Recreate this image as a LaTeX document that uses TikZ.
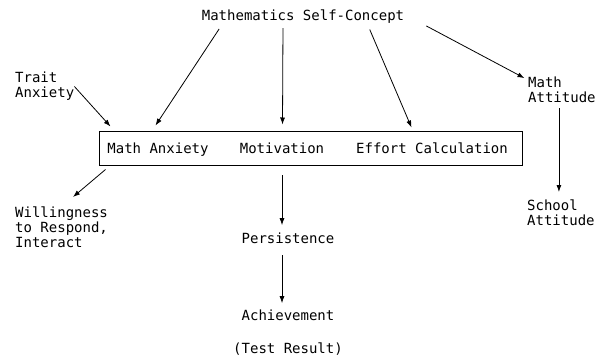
\documentclass[tikz,border=0pt]{standalone}
\usepackage{fontspec}
\setmonofont{DejaVu Sans Mono}
\usetikzlibrary{arrows.meta}

\begin{document}
\begin{tikzpicture}[x=1pt, y=-1pt,
  lbl/.style={font=\ttfamily\fontsize{14}{15}\selectfont, inner sep=0pt, align=left},
  arr/.style={-{Latex[length=7pt,width=5pt]}, line width=0.8pt}]
  \useasboundingbox (0,0) rectangle (601,362);

  % Self-concept at the top
  \node[lbl, anchor=base] (msc) at (303,20) {Mathematics Self-Concept};

  % Central box with its three parts
  \node[draw, line width=1pt, minimum width=423pt, minimum height=34pt, inner sep=0pt] (box) at (310.5,148) {};
  \node[lbl, anchor=base] (anx) at (158,153) {Math Anxiety};
  \node[lbl, anchor=base] (mot) at (282,153) {Motivation};
  \node[lbl, anchor=base] (eff) at (432,153) {Effort Calculation};

  % Side labels
  \node[lbl, anchor=north west] (trait) at (15,72) {Trait\\Anxiety};
  \node[lbl, anchor=north west] (matt) at (528,77) {Math\\Attitude};
  \node[lbl, anchor=north west] (will) at (15,207) {Willingness\\to Respond,\\Interact};
  \node[lbl, anchor=north west] (sch) at (527,200) {School\\Attitude};

  % Outcomes below
  \node[lbl, anchor=base] (pers) at (288,243) {Persistence};
  \node[lbl, anchor=base] (ach) at (288,320) {Achievement};
  \node[lbl, anchor=base] (res) at (288,353) {(Test Result)};

  % Arrows from the self-concept
  \draw[arr, shorten <=7pt] ([xshift=-80pt]msc.south) -- ([xshift=57pt, yshift=5pt]box.north west);
  \draw[arr, shorten <=5pt] ([xshift=-20pt]msc.south) -- ([xshift=184pt, yshift=6pt]box.north west);
  \draw[arr, shorten <=7pt] ([xshift=64pt]msc.south) -- ([xshift=313pt, yshift=3pt]box.north west);
  \draw[arr, shorten <=6pt, shorten >=4pt] ([xshift=118pt]msc.south) -- ([yshift=-3pt]matt.north west);

  % Arrows round the box
  \draw[arr] (trait.east) -- ([xshift=12pt, yshift=4pt]box.north west);
  \draw[arr] ([xshift=7pt, yshift=-4pt]box.south west) -- ([xshift=58pt, yshift=10pt]will.north west);

  % Downward chains
  \draw[arr, shorten <=22pt, shorten >=7pt] (mot.south) -- (mot.south |- pers.north);
  \draw[arr, shorten <=12pt, shorten >=6pt] (mot.south |- pers.south) -- (mot.south |- ach.north);
  \draw[arr, shorten <=5pt, shorten >=8pt] ([xshift=-3pt]matt.south) -- ([xshift=-3pt]matt.south |- sch.north);
\end{tikzpicture}
\end{document}
